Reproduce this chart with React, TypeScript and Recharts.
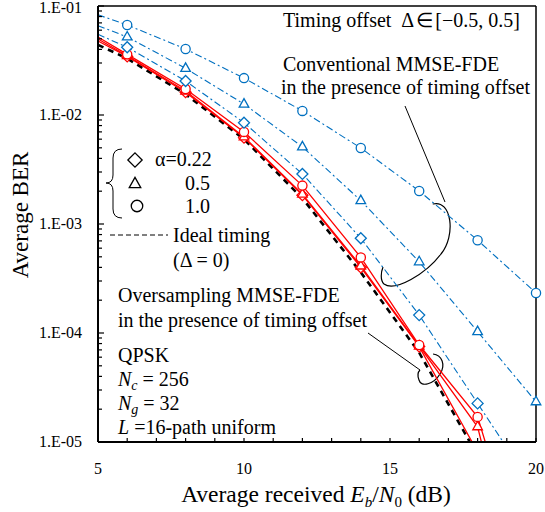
import React from "react";
import { LineChart, Line, XAxis, YAxis, ReferenceLine, Customized } from "recharts";

// Eb/N0 (dB) at which every curve is sampled
const ebn0 = [5, 6, 8, 10, 12, 14, 16, 18, 20];

// conventional MMSE-FDE with timing offset (blue, dash-dot)
const convAlpha022 = [5.5e-2, 4.18e-2, 2.05e-2, 8.5e-3, 2.88e-3, 7.4e-4, 1.46e-4, 2.26e-5, 3.5e-6];
const convAlpha05 = [6.6e-2, 5.2e-2, 2.68e-2, 1.26e-2, 5.1e-3, 1.64e-3, 4.5e-4, 1.03e-4, 2.34e-5];
const convAlpha10 = [8.3e-2, 6.7e-2, 4.03e-2, 2.18e-2, 1.09e-2, 4.98e-3, 2.01e-3, 7.1e-4, 2.33e-4];

// oversampling MMSE-FDE with timing offset (red, solid)
const overAlpha022 = [4.77e-2, 3.45e-2, 1.62e-2, 6.2e-3, 1.84e-3, 4.0e-4, 7.5e-5, 8.1e-6, 2e-7];
const overAlpha05 = [4.98e-2, 3.5e-2, 1.66e-2, 6.3e-3, 1.88e-3, 4.12e-4, 7.6e-5, 1.38e-5, 1e-7];
const overAlpha10 = [5.2e-2, 3.6e-2, 1.73e-2, 7.0e-3, 2.25e-3, 4.94e-4, 7.76e-5, 1.7e-5, 3e-7];

// ideal timing (black dashed)
const idealTiming = [4.4e-2, 3.3e-2, 1.55e-2, 6.0e-3, 1.72e-3, 3.6e-4, 6.6e-5, 7.5e-6, 1e-7];

const yMajorTicks = [1e-5, 1e-4, 1e-3, 1e-2, 1e-1];
const yTickLabels = ["1.E-05", "1.E-04", "1.E-03", "1.E-02", "1.E-01"];
const xTicks = [5, 6, 7, 8, 9, 10, 11, 12, 13, 14, 15, 16, 17, 18, 19, 20];
const xTickLabels = ["5", "10", "15", "20"];

const Y_MIN = 1e-5;
const Y_MAX = 1e-1;

const FONT = "'Liberation Serif', 'Times New Roman', serif";
const BLUE = "#0070c0";
const RED = "#ff0000";

const yMinorTicks = yMajorTicks.slice(0, -1).flatMap((d) => [2, 3, 4, 5, 6, 7, 8, 9].map((m) => m * d));
const yTicks = [...yMajorTicks, ...yMinorTicks].sort((a, b) => a - b);

const toPoints = (ys: number[]) => ebn0.map((x, i) => ({ x, y: ys[i] }));
// markers: no marker at 5 dB, and only those inside the plotted range
const toMarks = (ys: number[]) => toPoints(ys).filter((p) => p.x !== 5 && p.y >= Y_MIN);

type Shape = "circle" | "triangle" | "diamond";

function Marker({ shape, cx, cy, color, size = 1 }: { shape: Shape; cx: number; cy: number; color: string; size?: number }) {
  const common = { fill: "#fff", stroke: color, strokeWidth: 1.3 };
  if (shape === "circle") return <circle cx={cx} cy={cy} r={4.6 * size} {...common} />;
  if (shape === "triangle") {
    const w = 4.8 * size;
    return <polygon points={`${cx},${cy - 5.5 * size} ${cx - w},${cy + 3 * size} ${cx + w},${cy + 3 * size}`} {...common} />;
  }
  const d = 5.5 * size;
  return <polygon points={`${cx},${cy - d} ${cx + d},${cy} ${cx},${cy + d} ${cx - d},${cy}`} {...common} />;
}

const makeDot = (shape: Shape, color: string) => (props: any) => {
  const { cx, cy, index } = props;
  if (cx == null || cy == null) return <g key={index} />;
  return <Marker key={index} shape={shape} cx={cx} cy={cy} color={color} />;
};

const YTick = (props: any) => {
  const { x, y, payload } = props;
  const idx = yMajorTicks.findIndex((t) => Math.abs(t - payload.value) / t < 1e-6);
  const major = idx >= 0;
  const dy = payload.value >= Y_MAX * 0.999 ? 7 : 5;
  return (
    <g>
      <line x1={x} x2={x + (major ? 6 : 4)} y1={y} y2={y} stroke="#000" strokeWidth={1.2} />
      {major && (
        <text x={x - 16} y={y + dy} textAnchor="end" fontSize={16} fontFamily={FONT} fill="#000">
          {yTickLabels[idx]}
        </text>
      )}
    </g>
  );
};

const XTick = (props: any) => {
  const { x, y, payload } = props;
  const v = payload.value;
  const label = xTickLabels.find((l) => Number(l) === v);
  return (
    <g>
      <line x1={x} x2={x} y1={y} y2={y - 4} stroke="#000" strokeWidth={1.2} />
      {label && (
        <text x={x} y={y + 32} textAnchor="middle" fontSize={16} fontFamily={FONT} fill="#000">
          {label}
        </text>
      )}
    </g>
  );
};

function Annotations() {
  const t = { fontFamily: FONT, fontSize: 20, fill: "#000" };
  return (
    <g>
      <text x={283} y={27} {...t}>
        Timing offset<tspan dx={10}>Δ</tspan>
        <tspan dx={2}>∈</tspan>
        <tspan dx={2}>[−0.5, 0.5]</tspan>
      </text>
      <text x={283} y={71} {...t}>Conventional MMSE-FDE</text>
      <text x={281} y={94} {...t}>in the presence of timing offset</text>
      <line x1={405} y1={106} x2={445} y2={202} stroke="#000" strokeWidth={1} />
      <path d="M432.7,204 C452,199 456,236 441,254 C426,274 395,292 384,284 C380,280 381,272 383,267" fill="none" stroke="#000" strokeWidth={1.2} />

      {/* legend brace and symbols */}
      <path d="M122,149 Q113,149 113,158 L113,175 Q113,183 106,183 Q113,183 113,191 L113,209 Q113,218 122,218" fill="none" stroke="#000" strokeWidth={1} />
      <Marker shape="diamond" cx={135} cy={160} color="#000" size={1.3} />
      <Marker shape="triangle" cx={135} cy={184} color="#000" size={1.2} />
      <Marker shape="circle" cx={137} cy={206} color="#000" size={1.25} />
      <text x={155} y={166} {...t}>α=0.22</text>
      <text x={185} y={190} {...t}>0.5</text>
      <text x={185} y={213} {...t}>1.0</text>

      <line x1={110} y1={235} x2={168} y2={235} stroke="#000" strokeWidth={1} strokeDasharray="5 3" />
      <text x={173} y={242} {...t}>Ideal timing</text>
      <text x={173} y={267} {...t}>(Δ = 0)</text>

      <text x={118} y={302} {...t}>Oversampling MMSE-FDE</text>
      <text x={118} y={327} {...t}>in the presence of timing offset</text>
      <line x1={368} y1={333} x2={420} y2={370} stroke="#000" strokeWidth={1} />
      <path d="M433,354 C442,355 446,365 440,374 C434,384 421,388 419,380 C417,375 418,372 420,370" fill="none" stroke="#000" strokeWidth={1.2} />

      <text x={118} y={362} {...t}>QPSK</text>
      <text x={118} y={386} {...t}>
        <tspan fontStyle="italic">N</tspan>
        <tspan fontStyle="italic" fontSize={14} dy={4}>c</tspan>
        <tspan dy={-4}> = 256</tspan>
      </text>
      <text x={118} y={410} {...t}>
        <tspan fontStyle="italic">N</tspan>
        <tspan fontStyle="italic" fontSize={14} dy={4}>g</tspan>
        <tspan dy={-4}> = 32</tspan>
      </text>
      <text x={118} y={434} {...t}>
        <tspan fontStyle="italic">L</tspan> =16-path uniform
      </text>

      {/* axis titles */}
      <text x={316} y={502} textAnchor="middle" fontFamily={FONT} fontSize={23.5} fill="#000">
        Average received <tspan fontStyle="italic">E</tspan>
        <tspan fontStyle="italic" fontSize={15} dy={5}>b</tspan>
        <tspan dy={-5}>/</tspan>
        <tspan fontStyle="italic">N</tspan>
        <tspan fontSize={15} dy={5}>0</tspan>
        <tspan dy={-5}> (dB)</tspan>
      </text>
      <text x={28} y={215} transform="rotate(-90 28 215)" textAnchor="middle" fontFamily={FONT} fontSize={23} fill="#000">
        Average BER
      </text>
    </g>
  );
}

const curves: { ys: number[]; shape: Shape | null; color: string; width: number; dash?: string }[] = [
  { ys: idealTiming, shape: null, color: "#000", width: 2.6, dash: "6 5" },
  { ys: overAlpha022, shape: "diamond", color: RED, width: 1.3 },
  { ys: overAlpha05, shape: "triangle", color: RED, width: 1.3 },
  { ys: overAlpha10, shape: "circle", color: RED, width: 1.3 },
  { ys: convAlpha022, shape: "diamond", color: BLUE, width: 1.1, dash: "7 3 2 3" },
  { ys: convAlpha05, shape: "triangle", color: BLUE, width: 1.1, dash: "7 3 2 3" },
  { ys: convAlpha10, shape: "circle", color: BLUE, width: 1.1, dash: "7 3 2 3" },
];

export default function App() {
  return (
    <div style={{ position: "absolute", left: 0, top: 0, width: 545, height: 512, background: "#fff" }}>
      <LineChart width={545} height={512} margin={{ top: 6, right: 9, bottom: 0, left: 0 }} style={{ fontFamily: FONT }}>
        <XAxis
          dataKey="x"
          type="number"
          domain={[5, 20]}
          ticks={xTicks}
          interval={0}
          height={70}
          tickSize={0}
          tickMargin={0}
          tick={<XTick />}
          axisLine={{ stroke: "#000", strokeWidth: 2 }}
          tickLine={false}
        />
        <YAxis
          dataKey="y"
          scale="log"
          domain={[Y_MIN, Y_MAX]}
          ticks={yTicks}
          interval={0}
          width={98}
          tickSize={0}
          tickMargin={0}
          tick={<YTick />}
          axisLine={{ stroke: "#000", strokeWidth: 2 }}
          tickLine={false}
          allowDataOverflow
        />
        {/* same scale, no overflow: used for the markers so they are not clipped at the frame */}
        <YAxis yAxisId="marks" dataKey="y" scale="log" domain={[Y_MIN, Y_MAX]} width={0} hide />
        <ReferenceLine y={Y_MAX} stroke="#000" strokeWidth={1.5} />
        <ReferenceLine x={20} stroke="#000" strokeWidth={1.5} />

        {curves.map((c, i) => (
          <Line
            key={`line-${i}`}
            data={toPoints(c.ys)}
            dataKey="y"
            stroke={c.color}
            strokeWidth={c.width}
            strokeDasharray={c.dash}
            dot={false}
            activeDot={false}
            isAnimationActive={false}
          />
        ))}
        {curves.map((c, i) =>
          c.shape ? (
            <Line
              key={`marks-${i}`}
              yAxisId="marks"
              data={toMarks(c.ys)}
              dataKey="y"
              stroke="none"
              dot={makeDot(c.shape, c.color)}
              activeDot={false}
              isAnimationActive={false}
            />
          ) : null
        )}

        <Customized component={Annotations} />
      </LineChart>
    </div>
  );
}
